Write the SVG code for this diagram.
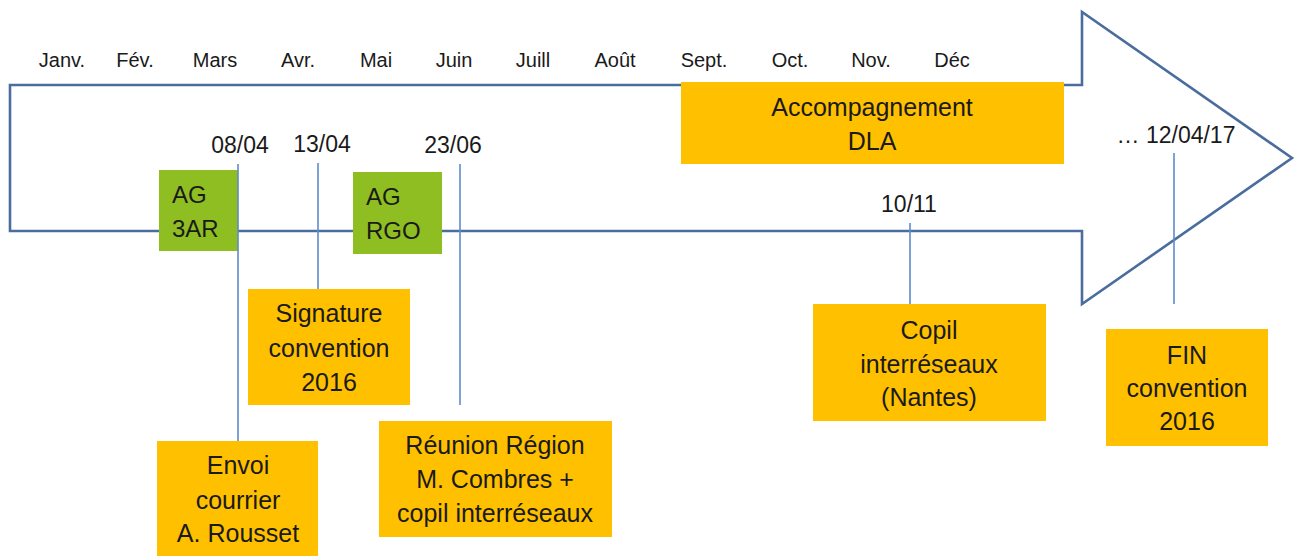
<svg xmlns="http://www.w3.org/2000/svg" width="1303" height="557" viewBox="0 0 1303 557">
<style>
text{font-family:"Liberation Sans",Arial,sans-serif;fill:#1a1a1a}
.m{font-size:20px;text-anchor:middle}
.d{font-size:23px;text-anchor:middle}
.b{font-size:25px;text-anchor:middle}
.g{font-size:24px}
.or{fill:#FFC000}
.gr{fill:#8FBE22}
.ln{stroke:#5E8BCB;stroke-width:1.6;fill:none}
</style>
<rect width="1303" height="557" fill="#ffffff"/>
<g id="arrow">
<path d="M10,85 H1082 V12 L1292,158 L1082,304 V231 H10 Z" fill="#ffffff" stroke="#4A6D9E" stroke-width="2.6" stroke-linejoin="miter"/>
</g>
<g id="months">
<text class="m" x="62" y="67">Janv.</text>
<text class="m" x="135" y="67">Fév.</text>
<text class="m" x="215" y="67">Mars</text>
<text class="m" x="298" y="67">Avr.</text>
<text class="m" x="376" y="67">Mai</text>
<text class="m" x="454" y="67">Juin</text>
<text class="m" x="533" y="67">Juill</text>
<text class="m" x="615" y="67">Août</text>
<text class="m" x="704" y="67">Sept.</text>
<text class="m" x="790" y="67">Oct.</text>
<text class="m" x="871" y="67">Nov.</text>
<text class="m" x="952" y="67">Déc</text>
</g>
<g id="dates">
<text class="d" x="240" y="153">08/04</text>
<text class="d" x="322" y="152">13/04</text>
<text class="d" x="453" y="153">23/06</text>
<text class="d" x="909" y="212">10/11</text>
<text class="d" x="1176" y="143">… 12/04/17</text>
</g>
<g id="node-dla">
<rect class="or" x="681" y="82" width="383" height="82"/>
<text class="b" x="872" y="116">Accompagnement</text>
<text class="b" x="872" y="150">DLA</text>
</g>
<g id="node-ag3ar">
<rect class="gr" x="159" y="170" width="79" height="81"/>
<text class="g" x="172" y="203">AG</text>
<text class="g" x="172" y="237">3AR</text>
</g>
<g id="node-agrgo">
<rect class="gr" x="353" y="172" width="89" height="82"/>
<text class="g" x="366" y="205">AG</text>
<text class="g" x="366" y="239">RGO</text>
</g>
<g id="connectors">
<line class="ln" x1="238" y1="164" x2="238" y2="441"/>
<line class="ln" x1="318" y1="163" x2="318" y2="289"/>
<line class="ln" x1="460" y1="164" x2="460" y2="405"/>
<line class="ln" x1="910" y1="223" x2="910" y2="304"/>
<line class="ln" x1="1174" y1="153" x2="1174" y2="304"/>
</g>
<g id="node-signature">
<rect class="or" x="248" y="289" width="162" height="116"/>
<text class="b" x="329" y="322">Signature</text>
<text class="b" x="329" y="357">convention</text>
<text class="b" x="329" y="391">2016</text>
</g>
<g id="node-envoi">
<rect class="or" x="157" y="441" width="161" height="115"/>
<text class="b" x="238" y="474">Envoi</text>
<text class="b" x="238" y="509">courrier</text>
<text class="b" x="238" y="542">A. Rousset</text>
</g>
<g id="node-reunion">
<rect class="or" x="379" y="421" width="233" height="116"/>
<text class="b" x="495" y="454">Réunion Région</text>
<text class="b" x="495" y="488">M. Combres +</text>
<text class="b" x="495" y="522">copil interréseaux</text>
</g>
<g id="node-copil">
<rect class="or" x="813" y="304" width="233" height="117"/>
<text class="b" x="929" y="339">Copil</text>
<text class="b" x="929" y="373">interréseaux</text>
<text class="b" x="929" y="406">(Nantes)</text>
</g>
<g id="node-fin">
<rect class="or" x="1106" y="329" width="162" height="117"/>
<text class="b" x="1187" y="364">FIN</text>
<text class="b" x="1187" y="397">convention</text>
<text class="b" x="1187" y="430">2016</text>
</g>
</svg>
